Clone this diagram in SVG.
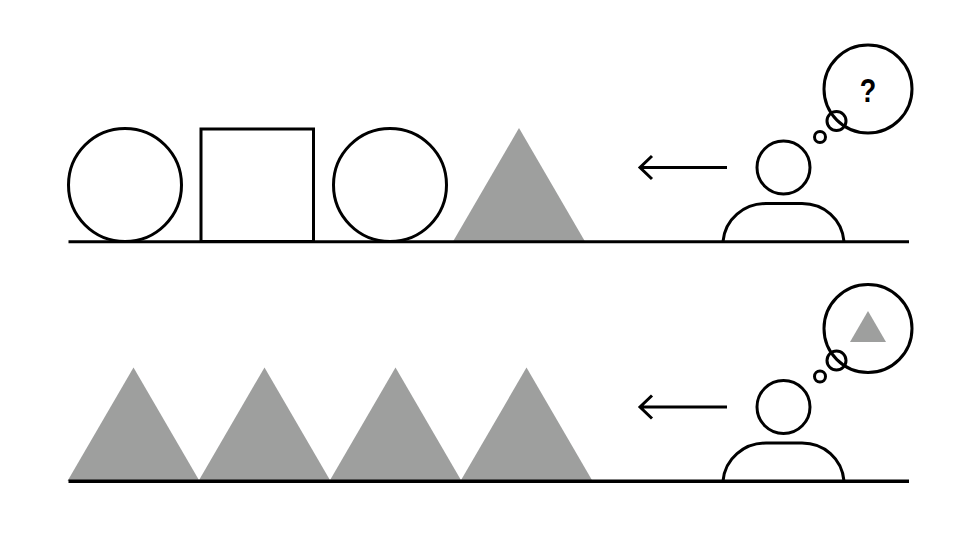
<svg xmlns="http://www.w3.org/2000/svg" width="978" height="558" viewBox="0 0 978 558">
  <style>
    .ln { fill: none; stroke: #000; stroke-width: 3; }
    .gr { fill: #9e9f9e; }
    text { font-family: "Liberation Sans", Arial, sans-serif; font-weight: 700; font-size: 30px; fill: #000; text-anchor: middle; }
  </style>
  <defs>
    <g id="person">
      <circle class="ln" cx="783.5" cy="167.5" r="26.5"/>
      <path class="ln" d="M723 241.5C725 219 744 203.5 766 203.5H802C824 203.5 842 219 844 241.5"/>
    </g>
    <g id="bubbles">
      <circle class="ln" cx="868" cy="89" r="44"/>
      <circle class="ln" cx="836.5" cy="121" r="9.5"/>
      <circle class="ln" cx="820" cy="137" r="5.5"/>
    </g>
    <polygon id="tri" class="gr" points="66,0 132,113.5 0,113.5"/>
  </defs>

  <!-- upper row -->
  <g id="row1-circle1"><circle class="ln" cx="125" cy="185" r="56.5"/></g>
  <g id="row1-square"><rect class="ln" x="201" y="129" width="112.5" height="112.5"/></g>
  <g id="row1-circle2"><circle class="ln" cx="390" cy="185" r="56.5"/></g>
  <g id="row1-triangle"><use href="#tri" x="453" y="128"/></g>
  <g id="row1-person"><use href="#person"/></g>
  <g id="row1-thought">
    <use href="#bubbles"/>
    <text transform="translate(868 101.5) scale(.9 1.1)">?</text>
  </g>

  <!-- lower row -->
  <g id="row2-triangle1"><use href="#tri" x="67.5" y="367.5"/></g>
  <g id="row2-triangle2"><use href="#tri" x="198.5" y="367.5"/></g>
  <g id="row2-triangle3"><use href="#tri" x="329.5" y="367.5"/></g>
  <g id="row2-triangle4"><use href="#tri" x="460.5" y="367.5"/></g>
  <g id="row2-person"><use href="#person" y="239.5"/></g>
  <g id="row2-thought">
    <use href="#bubbles" y="239.5"/>
    <polygon class="gr" points="868,311 886,342 850,342"/>
  </g>

  <g id="connectors">
    <line class="ln" x1="68.5" y1="241.7" x2="909" y2="241.7"/>
    <line class="ln" style="stroke-width:3.4" x1="68.5" y1="481.3" x2="909" y2="481.3"/>
    <path class="ln" d="M727 167.5H640M652 156L640 167.5L652 179"/>
    <path class="ln" d="M727 407H640M652 395.5L640 407L652 418.5"/>
  </g>
</svg>
